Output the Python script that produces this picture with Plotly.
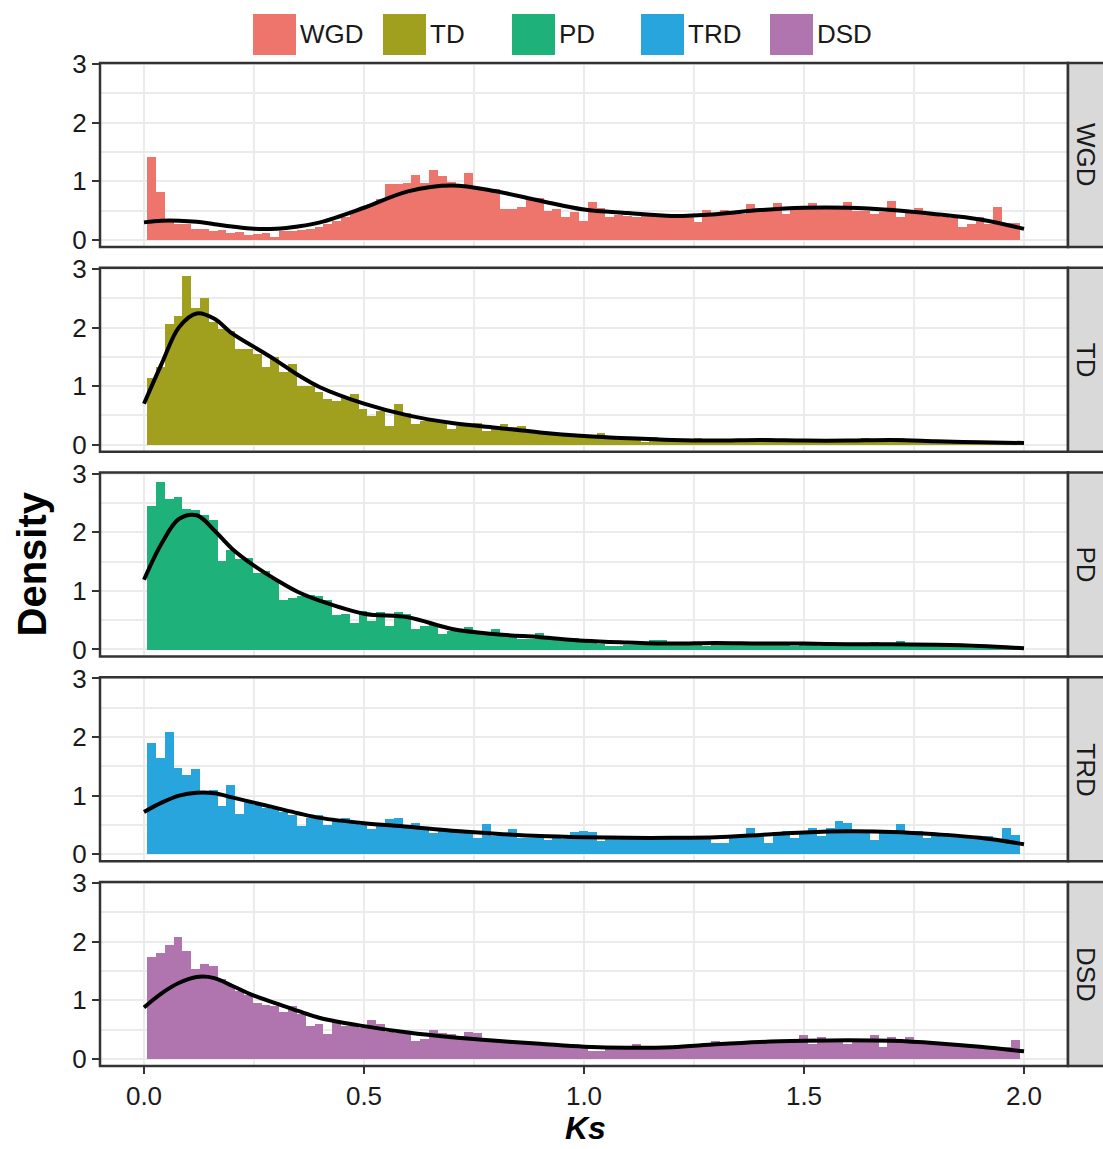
import numpy as np
import plotly.graph_objects as go
from plotly.subplots import make_subplots

# ---------------- data ----------------
categories = ["WGD", "TD", "PD", "TRD", "DSD"]
bar_colors = ["#ED756C", "#A0A01E", "#1EB27A", "#29A5DE", "#B075AE"]

n_bins = 99
bin_lo, bin_hi = 0.007, 1.99
bin_width = (bin_hi - bin_lo) / n_bins
ks_bins = [round(bin_lo + bin_width * (i + 0.5), 4) for i in range(n_bins)]

wgd_hist = [1.41, 0.82, 0.30, 0.27, 0.27, 0.18, 0.18, 0.16, 0.17, 0.12,
            0.14, 0.08, 0.10, 0.12, 0.05, 0.15, 0.16, 0.17, 0.18, 0.22,
            0.28, 0.33, 0.40, 0.47, 0.55, 0.62, 0.70, 0.95, 0.96, 0.97,
            1.11, 0.97, 1.20, 1.10, 0.99, 0.92, 1.14, 0.90, 0.87, 0.87,
            0.53, 0.53, 0.56, 0.72, 0.72, 0.49, 0.53, 0.40, 0.47, 0.33,
            0.64, 0.54, 0.39, 0.42, 0.41, 0.40, 0.42, 0.41, 0.40, 0.43,
            0.41, 0.42, 0.30, 0.52, 0.42, 0.52, 0.44, 0.45, 0.61, 0.50,
            0.50, 0.63, 0.44, 0.54, 0.54, 0.63, 0.54, 0.53, 0.55, 0.64,
            0.50, 0.50, 0.44, 0.48, 0.67, 0.40, 0.52, 0.54, 0.44, 0.45,
            0.40, 0.38, 0.22, 0.27, 0.40, 0.27, 0.57, 0.29, 0.29]

td_hist = [1.14, 1.33, 2.07, 2.20, 2.89, 2.34, 2.51, 2.10, 1.98, 1.95,
           1.63, 1.64, 1.55, 1.33, 1.50, 1.24, 1.39, 1.01, 1.00, 0.90,
           0.79, 0.75, 0.81, 0.87, 0.62, 0.50, 0.58, 0.33, 0.70, 0.54,
           0.35, 0.41, 0.43, 0.38, 0.28, 0.33, 0.34, 0.37, 0.24, 0.27,
           0.35, 0.30, 0.33, 0.21, 0.22, 0.21, 0.18, 0.17, 0.16, 0.17,
           0.17, 0.20, 0.16, 0.12, 0.12, 0.10, 0.05, 0.13, 0.10, 0.08,
           0.05, 0.09, 0.12, 0.08, 0.06, 0.08, 0.07, 0.08, 0.09, 0.07,
           0.12, 0.08, 0.06, 0.07, 0.06, 0.07, 0.08, 0.08, 0.07, 0.06,
           0.09, 0.12, 0.08, 0.07, 0.06, 0.12, 0.07, 0.06, 0.09, 0.06,
           0.05, 0.04, 0.04, 0.05, 0.04, 0.03, 0.04, 0.03, 0.03]

pd_hist = [2.45, 2.87, 2.57, 2.61, 2.41, 2.39, 2.31, 2.22, 1.51, 1.70,
           1.55, 1.57, 1.31, 1.35, 1.21, 0.86, 0.88, 0.92, 0.94, 0.92,
           0.86, 0.59, 0.61, 0.46, 0.67, 0.49, 0.65, 0.41, 0.65, 0.62,
           0.35, 0.41, 0.44, 0.27, 0.33, 0.32, 0.39, 0.30, 0.29, 0.35,
           0.23, 0.24, 0.19, 0.19, 0.29, 0.22, 0.21, 0.20, 0.20, 0.15,
           0.12, 0.10, 0.06, 0.07, 0.08, 0.09, 0.10, 0.17, 0.17, 0.12,
           0.08, 0.08, 0.09, 0.07, 0.08, 0.09, 0.08, 0.09, 0.14, 0.08,
           0.14, 0.09, 0.08, 0.07, 0.08, 0.09, 0.07, 0.08, 0.09, 0.08,
           0.09, 0.08, 0.14, 0.09, 0.08, 0.15, 0.08, 0.07, 0.08, 0.07,
           0.06, 0.07, 0.06, 0.05, 0.06, 0.09, 0.08, 0.04, 0.03]

trd_hist = [1.89, 1.64, 2.08, 1.47, 1.34, 1.45, 1.05, 1.09, 0.82, 1.17,
            0.69, 0.90, 0.84, 0.79, 0.76, 0.71, 0.66, 0.48, 0.62, 0.66,
            0.50, 0.56, 0.62, 0.53, 0.50, 0.42, 0.47, 0.59, 0.62, 0.47,
            0.53, 0.44, 0.36, 0.39, 0.37, 0.36, 0.35, 0.27, 0.51, 0.30,
            0.31, 0.43, 0.27, 0.28, 0.27, 0.23, 0.27, 0.26, 0.38, 0.39,
            0.38, 0.22, 0.30, 0.29, 0.28, 0.29, 0.28, 0.27, 0.28, 0.28,
            0.27, 0.28, 0.27, 0.28, 0.19, 0.19, 0.30, 0.31, 0.44, 0.32,
            0.19, 0.33, 0.40, 0.28, 0.34, 0.44, 0.30, 0.44, 0.57, 0.53,
            0.40, 0.40, 0.23, 0.38, 0.38, 0.52, 0.36, 0.40, 0.28, 0.36,
            0.36, 0.33, 0.33, 0.28, 0.27, 0.30, 0.22, 0.44, 0.32]

dsd_hist = [1.74, 1.81, 1.95, 2.09, 1.84, 1.54, 1.62, 1.58, 1.37, 1.27,
            1.16, 1.09, 0.95, 0.92, 0.91, 0.80, 0.90, 0.76, 0.57, 0.59,
            0.43, 0.66, 0.56, 0.56, 0.53, 0.66, 0.59, 0.46, 0.44, 0.43,
            0.31, 0.34, 0.49, 0.44, 0.43, 0.39, 0.46, 0.44, 0.30, 0.33,
            0.30, 0.28, 0.27, 0.26, 0.25, 0.23, 0.22, 0.21, 0.19, 0.20,
            0.14, 0.14, 0.20, 0.19, 0.20, 0.26, 0.19, 0.18, 0.19, 0.19,
            0.20, 0.20, 0.21, 0.22, 0.31, 0.23, 0.25, 0.26, 0.27, 0.27,
            0.28, 0.28, 0.29, 0.30, 0.41, 0.25, 0.38, 0.30, 0.31, 0.26,
            0.31, 0.31, 0.41, 0.21, 0.38, 0.32, 0.38, 0.30, 0.29, 0.28,
            0.27, 0.26, 0.24, 0.22, 0.20, 0.18, 0.17, 0.20, 0.33]

curve_ks = [0.0, 0.04, 0.08, 0.12, 0.16, 0.2, 0.25, 0.3, 0.35, 0.4, 0.5, 0.6,
            0.7, 0.8, 0.9, 1.0, 1.1, 1.2, 1.3, 1.4, 1.5, 1.6, 1.7, 1.8, 1.9, 2.0]
wgd_curve = [0.30, 0.33, 0.33, 0.31, 0.27, 0.23, 0.19, 0.19, 0.23, 0.30, 0.55, 0.83,
             0.93, 0.83, 0.67, 0.52, 0.46, 0.41, 0.44, 0.51, 0.55, 0.55, 0.51, 0.44, 0.35, 0.19]
td_curve = [0.70, 1.38, 2.01, 2.24, 2.15, 1.90, 1.67, 1.44, 1.19, 0.98, 0.70, 0.50,
            0.37, 0.29, 0.21, 0.15, 0.11, 0.08, 0.07, 0.08, 0.07, 0.07, 0.08, 0.06, 0.04, 0.03]
pd_curve = [1.19, 1.81, 2.23, 2.29, 2.03, 1.72, 1.43, 1.19, 0.98, 0.83, 0.61, 0.55,
            0.35, 0.26, 0.21, 0.15, 0.12, 0.10, 0.11, 0.10, 0.10, 0.09, 0.09, 0.08, 0.06, 0.02]
trd_curve = [0.72, 0.88, 1.00, 1.05, 1.04, 0.97, 0.88, 0.79, 0.70, 0.62, 0.53, 0.47,
             0.40, 0.35, 0.31, 0.29, 0.28, 0.28, 0.29, 0.33, 0.37, 0.39, 0.38, 0.34, 0.28, 0.17]
dsd_curve = [0.88, 1.12, 1.30, 1.40, 1.38, 1.25, 1.08, 0.95, 0.82, 0.70, 0.56, 0.45,
             0.37, 0.31, 0.26, 0.21, 0.19, 0.20, 0.25, 0.29, 0.31, 0.32, 0.31, 0.27, 0.21, 0.13]

y_tick_vals = [0, 1, 2, 3]
x_tick_vals = [0.0, 0.5, 1.0, 1.5, 2.0]
x_tick_text = ["0.0", "0.5", "1.0", "1.5", "2.0"]

hists = [wgd_hist, td_hist, pd_hist, trd_hist, dsd_hist]
curves = [wgd_curve, td_curve, pd_curve, trd_curve, dsd_curve]

# ---------------- figure ----------------
W, H = 1103, 1149
ML, MR, MT, MB = 100, 35, 63, 83
PW, PH = W - ML - MR, H - MT - MB
gap_px = 20.75

fig = make_subplots(rows=5, cols=1, shared_xaxes=True,
                    vertical_spacing=gap_px / PH)

FONT = "Liberation Sans, Arial, sans-serif"
TXT = "#1a1a1a"
GRID = "#ebebeb"
BORDER = "#333333"

for r, (name, col, hv, cv) in enumerate(zip(categories, bar_colors, hists, curves), start=1):
    fig.add_trace(go.Bar(x=ks_bins, y=hv, width=bin_width, marker=dict(color=col, line=dict(width=0)),
                         name=name, showlegend=False), row=r, col=1)
    fig.add_trace(go.Scatter(x=curve_ks, y=cv, mode="lines",
                             line=dict(color="black", width=4, shape="spline", smoothing=1.0),
                             showlegend=False), row=r, col=1)
    fig.update_yaxes(range=[-0.12, 3.02], tickvals=y_tick_vals, showgrid=True, gridcolor=GRID,
                     gridwidth=2, zeroline=False, showline=False, ticks="outside", ticklen=7,
                     tickwidth=2, tickcolor=BORDER,
                     tickfont=dict(family=FONT, size=26, color=TXT),
                     minor=dict(dtick=0.5, tick0=0, showgrid=True, gridcolor=GRID, gridwidth=1.5, ticks=""),
                     row=r, col=1)
    fig.update_xaxes(range=[-0.1, 2.1], tickvals=x_tick_vals, ticktext=x_tick_text,
                     showgrid=True, gridcolor=GRID, gridwidth=2, zeroline=False, showline=False,
                     minor=dict(dtick=0.25, tick0=0, showgrid=True, gridcolor=GRID, gridwidth=1.5, ticks=""),
                     row=r, col=1)
    xr = "x" if r == 1 else f"x{r}"
    yr = "y" if r == 1 else f"y{r}"
    # panel border
    fig.add_shape(type="rect", xref=f"{xr} domain", yref=f"{yr} domain", x0=0, x1=1, y0=0, y1=1,
                  line=dict(color=BORDER, width=2.5), fillcolor="rgba(0,0,0,0)", layer="above")
    # strip
    fig.add_shape(type="rect", xref=f"{xr} domain", yref=f"{yr} domain", x0=1, x1=1 + 40 / PW,
                  y0=0, y1=1, line=dict(color=BORDER, width=2.5), fillcolor="#d9d9d9", layer="above")
    fig.add_annotation(text=name, xref=f"{xr} domain", yref=f"{yr} domain", x=1 + 18 / PW, y=0.5,
                       showarrow=False, textangle=90, font=dict(family=FONT, size=26, color=TXT),
                       xanchor="center", yanchor="middle")

fig.update_xaxes(ticks="outside", ticklen=7, tickwidth=2, tickcolor=BORDER,
                 showticklabels=True, tickfont=dict(family=FONT, size=26, color=TXT), row=5, col=1)

# legend drawn as swatches + text
leg_x = [253, 383, 512, 641, 770]
for name, col, lx in zip(categories, bar_colors, leg_x):
    fig.add_shape(type="rect", xref="paper", yref="paper",
                  x0=(lx - ML) / PW, x1=(lx + 43 - ML) / PW,
                  y0=1 + (MT - 55) / PH, y1=1 + (MT - 14) / PH,
                  line=dict(width=0), fillcolor=col)
    fig.add_annotation(text=name, xref="paper", yref="paper", x=(lx + 45 - ML) / PW,
                       y=1 + (MT - 34) / PH, xanchor="left", yanchor="middle", showarrow=False,
                       font=dict(family=FONT, size=26, color=TXT))

# axis titles
fig.add_annotation(text="<b>Density</b>", xref="paper", yref="paper", x=(31 - ML) / PW, y=0.5,
                   textangle=-90, showarrow=False, xanchor="center", yanchor="middle",
                   font=dict(family=FONT, size=40, color="black"))
fig.add_annotation(text="<b><i>Ks</i></b>", xref="paper", yref="paper", x=(585 - ML) / PW,
                   y=-(1128 - MT - PH) / PH, showarrow=False, xanchor="center", yanchor="middle",
                   borderpad=0, font=dict(family=FONT, size=32, color="black"))

fig.update_layout(width=W, height=H, margin=dict(l=ML, r=MR, t=MT, b=MB, autoexpand=False),
                  paper_bgcolor="white", plot_bgcolor="white", bargap=0, showlegend=False)

fig.write_html("out.html", config={"displayModeBar": False},
               post_script="document.body.style.margin='0';document.body.style.padding='0';"
                           "document.body.style.overflow='hidden';")
